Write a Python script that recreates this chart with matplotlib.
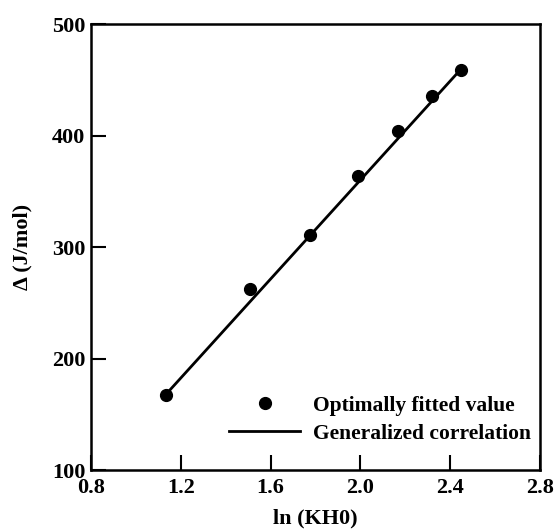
import numpy as np
import matplotlib
matplotlib.use('Agg')
import matplotlib.pyplot as plt

plt.rcParams['font.family'] = ['Liberation Serif', 'DejaVu Serif']

# Optimally fitted values
ln_kh0 = [1.134, 1.508, 1.775, 1.991, 2.166, 2.318, 2.447]
delta = [167, 262, 311, 364, 404, 435, 459]

# Generalized correlation (straight line end points)
corr_x = [1.13, 2.45]
corr_y = [167, 460]

xticks = [0.8, 1.2, 1.6, 2.0, 2.4, 2.8]
yticks = [100, 200, 300, 400, 500]

fig = plt.figure(figsize=(5.55, 5.3), dpi=100)
ax = fig.add_axes([0.164, 0.1132, 0.809, 0.8415])

ax.plot(ln_kh0, delta, 'o', color='black', markersize=8.5, label='Optimally fitted value')
ax.plot(corr_x, corr_y, '-', color='black', linewidth=2, label='Generalized correlation')

ax.set_xlim(0.8, 2.8)
ax.set_ylim(100, 500)
ax.set_xticks(xticks)
ax.set_xticklabels([f'{v:.1f}' for v in xticks])
ax.set_yticks(yticks)
ax.tick_params(direction='in', length=11, width=1.5, labelsize=16,
               top=False, right=False)
ax.tick_params(axis='x', pad=6)
ax.tick_params(axis='y', pad=4)
for lab in ax.get_xticklabels() + ax.get_yticklabels():
    lab.set_fontweight('bold')
for sp in ax.spines.values():
    sp.set_linewidth(1.8)

ax.set_xlabel('ln (KH0)', fontsize=16, fontweight='bold', labelpad=7)
ax.set_ylabel('\u0394 (J/mol)', fontsize=16, fontweight='bold', labelpad=14)

ax.legend(loc='lower right', bbox_to_anchor=(1.0, 0.04), frameon=False,
          numpoints=1, handlelength=3.3, prop={'size': 15.5, 'weight': 'bold'},
          borderaxespad=0, labelspacing=0.35, handletextpad=0.6)

fig.savefig('out.png', dpi=100)
